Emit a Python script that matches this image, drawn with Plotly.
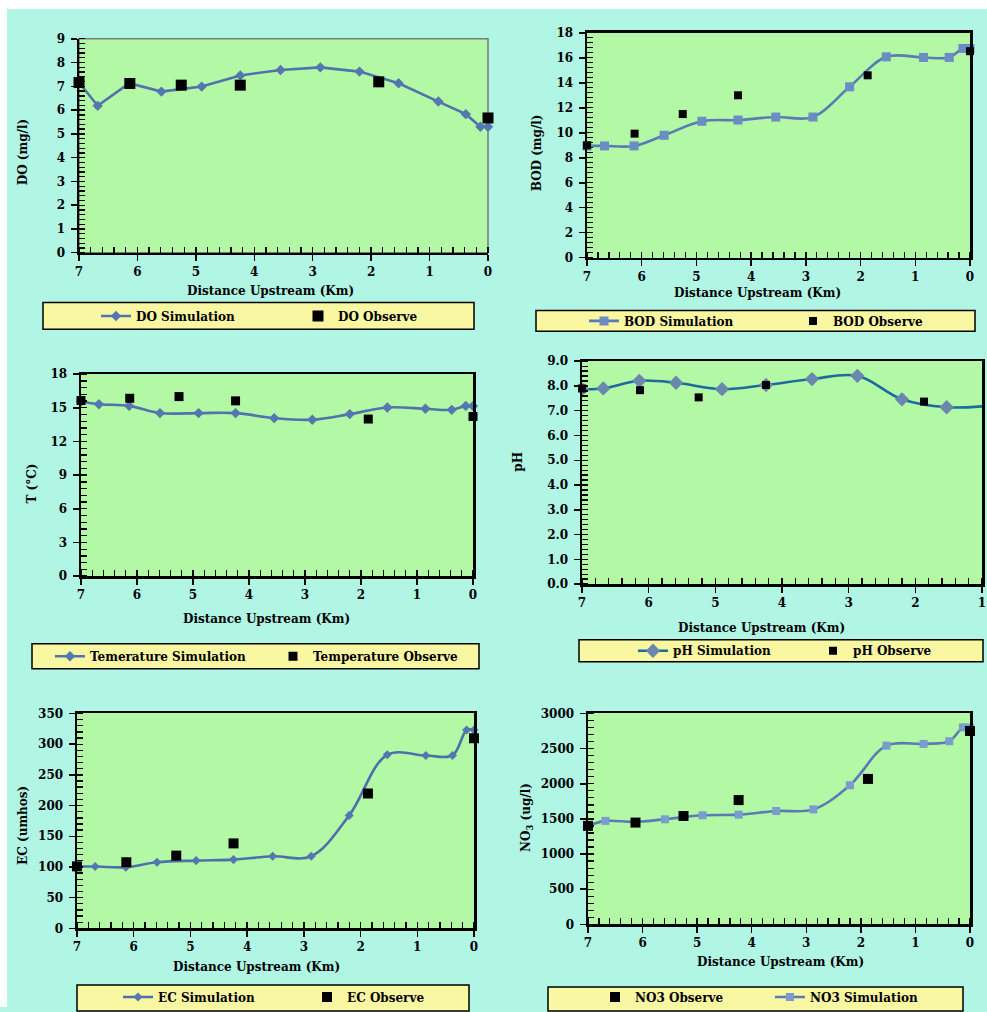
import plotly.graph_objects as go

# ---------------- data ----------------
x_sim = [7.0, 6.68, 6.14, 5.59, 4.90, 4.24, 3.55, 2.87, 2.20, 1.53, 0.85, 0.38, 0.13, 0.0]
x_obs = [7.0, 6.13, 5.25, 4.24, 1.87, 0.0]

do_sim = [7.16, 6.18, 7.13, 6.78, 6.99, 7.46, 7.69, 7.80, 7.62, 7.13, 6.36, 5.83, 5.30, 5.30]
do_obs = [7.16, 7.12, 7.05, 7.05, 7.19, 5.67]

bod_sim = [8.95, 8.95, 8.95, 9.80, 10.92, 11.02, 11.26, 11.26, 13.68, 16.08, 16.03, 16.03, 16.75, 16.75]
bod_obs = [9.0, 9.93, 11.5, 13.0, 14.6, 16.53]

t_sim = [15.56, 15.32, 15.17, 14.53, 14.53, 14.53, 14.08, 13.94, 14.44, 15.03, 14.91, 14.82, 15.17, 15.17]
t_obs = [15.65, 15.85, 16.0, 15.62, 14.0, 14.23]

ph_x_sim = x_sim[:11]
ph_sim = [7.87, 7.90, 8.21, 8.13, 7.87, 8.04, 8.28, 8.41, 7.46, 7.14, 7.21]
ph_x_obs = x_obs[:5]
ph_obs = [7.90, 7.83, 7.54, 8.04, 7.37]

ec_sim = [100.7, 100.7, 99.6, 107.7, 110.4, 112.0, 117.4, 117.4, 184.0, 282.7, 281.6, 281.6, 323.0, 323.0]
ec_obs = [101.0, 107.7, 118.5, 138.4, 219.7, 309.6]

no3_sim = [1401, 1472, 1458, 1495, 1552, 1561, 1613, 1636, 1979, 2543, 2567, 2605, 2802, 2802]
no3_obs = [1401, 1448, 1542, 1768, 2069, 2750]

# ---------------- styling / layout constants ----------------
W, H = 987, 1012
CYAN = "#b1f6e4"
GREEN = "#b3f8a4"
YELLOW = "#faf7a2"
FONT = "DejaVu Serif"


def fx(p):
    return p / W


def fy(p):
    return 1 - p / H


panels = [
    dict(xr=[7, 0], yr=[0, 9], dt=1, mn=0.2, fmt="", px=(79, 488), py=(39, 254),
         yt="DO (mg/l)", xtp=(270, 292), ytp=(23, 153)),
    dict(xr=[7, 0], yr=[0, 18], dt=2, mn=0.4, fmt="", px=(587, 970), py=(33, 259),
         yt="BOD (mg/l)", xtp=(757, 294), ytp=(537, 154)),
    dict(xr=[7, 0], yr=[0, 18], dt=3, mn=0.6, fmt="", px=(81, 473), py=(376, 579),
         yt="T (°C)", xtp=(266, 622), ytp=(32, 486)),
    dict(xr=[7, 1], yr=[0, 9], dt=1, mn=0.2, fmt=".1f", px=(582, 982), py=(363, 587),
         yt="pH", xtp=(761, 631), ytp=(518, 464)),
    dict(xr=[7, 0], yr=[0, 350], dt=50, mn=10, fmt="", px=(77, 474), py=(717, 933),
         yt="EC (umhos)", xtp=(256, 972), ytp=(23, 830)),
    dict(xr=[7, 0], yr=[0, 3000], dt=500, mn=100, fmt="", px=(588, 970), py=(717, 929),
         yt="NO<sub>3</sub> (ug/l)", xtp=(780, 967), ytp=(527, 822)),
]

fig = go.Figure()

series = [
    (0, x_sim, do_sim, "DO Simulation", "sim", dict(sym="diamond", size=8, mc="#5577b0", lc="#5073ad", shape="linear")),
    (0, x_obs, do_obs, "DO Observe", "obs", dict(size=11)),
    (1, x_sim, bod_sim, "BOD Simulation", "sim", dict(sym="square", size=9, mc="#6b8dc4", lc="#5a7bb5", shape="spline")),
    (1, x_obs, bod_obs, "BOD Observe", "obs", dict(size=8)),
    (2, x_sim, t_sim, "Temerature Simulation", "sim", dict(sym="diamond", size=8, mc="#5577b0", lc="#5073ad", shape="spline")),
    (2, x_obs, t_obs, "Temperature Observe", "obs", dict(size=9)),
    (3, ph_x_sim, ph_sim, "pH Simulation", "sim", dict(sym="diamond", size=11, mc="#6a88ad", lc="#1b6b9e", shape="spline", clip=True)),
    (3, ph_x_obs, ph_obs, "pH Observe", "obs", dict(size=8)),
    (4, x_sim, ec_sim, "EC Simulation", "sim", dict(sym="diamond", size=7, mc="#5577b0", lc="#4d70ad", shape="spline")),
    (4, x_obs, ec_obs, "EC Observe", "obs", dict(size=10)),
    (5, x_obs, no3_obs, "NO3 Observe", "obs", dict(size=10)),
    (5, x_sim, no3_sim, "NO3 Simulation", "sim", dict(sym="square", size=8, mc="#7b9dcd", lc="#5a7bb5", shape="spline")),
]

legend_pos = [
    (96, 317.5), (298, 317.5),
    (584, 322.5), (793, 322.5),
    (50, 659.5), (273, 659.5),
    (633, 654), (813, 654),
    (118, 1002), (307, 1002),
    (595, 1002), (770, 1002),
]

legend_boxes = [
    (43, 474, 304, 331),
    (536, 975, 312, 333),
    (32, 479, 647, 672),
    (579, 983, 643, 665),
    (77, 469, 990, 1016),
    (548, 963, 992, 1016),
]

order = [i for i, s in enumerate(series) if s[4] == "sim"] + [i for i, s in enumerate(series) if s[4] == "obs"]
for i in order:
    p, xs, ys, name, kind, st = series[i]
    axn = "" if p == 0 else str(p + 1)
    lg = "legend" if i == 0 else "legend%d" % (i + 1)
    if kind == "sim":
        tr = go.Scatter(
            x=xs, y=ys, name=name, mode="lines+markers",
            line=dict(color=st["lc"], width=2.6, shape=st["shape"], smoothing=1.0),
            marker=dict(symbol=st["sym"], size=st["size"], color=st["mc"], line=dict(width=0)),
            cliponaxis=st.get("clip", False),
            xaxis="x" + axn, yaxis="y" + axn, legend=lg,
        )
    else:
        tr = go.Scatter(
            x=xs, y=ys, name=name, mode="markers",
            marker=dict(symbol="square", size=st["size"], color="#000000", line=dict(width=0)),
            cliponaxis=False,
            xaxis="x" + axn, yaxis="y" + axn, legend=lg,
        )
    fig.add_trace(tr)

layout = dict(
    width=W, height=H,
    margin=dict(l=0, r=0, t=0, b=0),
    paper_bgcolor=CYAN,
    plot_bgcolor=GREEN,
    template="none",
    showlegend=True,
    font=dict(family=FONT, size=12, color="#000000"),
)

tickfont = dict(family=FONT, size=12, color="#000000", weight="bold")

shapes = []
annotations = []
for k, pn in enumerate(panels):
    axn = "" if k == 0 else str(k + 1)
    mirror = k != 0
    xa = dict(
        domain=[fx(pn["px"][0]), fx(pn["px"][1])],
        range=pn["xr"], autorange=False, tickmode="linear", dtick=1, tick0=0,
        showgrid=False, zeroline=False,
        showline=True, linecolor="#000000", linewidth=2.5, mirror=mirror,
        ticks="outside", ticklen=6, tickwidth=1.5, tickcolor="#000000",
        minor=dict(tickmode="linear", tick0=0, dtick=0.2, ticks="inside", ticklen=6,
                   tickwidth=1.3, tickcolor="#000000", showgrid=False),
        tickfont=tickfont, anchor="y" + axn, automargin=False, fixedrange=True,
    )
    ya = dict(
        domain=[fy(pn["py"][1]), fy(pn["py"][0])],
        range=pn["yr"], autorange=False, tickmode="linear", dtick=pn["dt"], tick0=0,
        tickformat=pn["fmt"],
        showgrid=False, zeroline=False,
        showline=True, linecolor="#000000", linewidth=2.5, mirror=mirror,
        ticks="outside", ticklen=6, tickwidth=1.5, tickcolor="#000000",
        ticklabelstandoff=3,
        minor=dict(tickmode="linear", tick0=0, dtick=pn["mn"], ticks="inside", ticklen=6,
                   tickwidth=1.3, tickcolor="#000000", showgrid=False),
        tickfont=tickfont, anchor="x" + axn, automargin=False, fixedrange=True,
    )
    layout["xaxis" + axn] = xa
    layout["yaxis" + axn] = ya

    if k == 0:
        shapes.append(dict(type="rect", xref="x domain", yref="y domain", x0=0, x1=1, y0=0, y1=1,
                           line=dict(color="#7a7a7a", width=1.5), layer="below"))
    annotations.append(dict(text="<b>Distance Upstream (Km)</b>", xref="paper", yref="paper",
                            x=fx(pn["xtp"][0]), y=fy(pn["xtp"][1]), xanchor="center", yanchor="middle",
                            showarrow=False, font=dict(family=FONT, size=12, color="#000000")))
    annotations.append(dict(text="<b>%s</b>" % pn["yt"], xref="paper", yref="paper",
                            x=fx(pn["ytp"][0]), y=fy(pn["ytp"][1]), xanchor="center", yanchor="middle",
                            textangle=-90, showarrow=False, font=dict(family=FONT, size=12, color="#000000")))

shapes.append(dict(type="rect", xref="paper", yref="paper", x0=0, x1=fx(7), y0=0, y1=1,
                   fillcolor="#ffffff", line=dict(width=0), layer="below"))
shapes.append(dict(type="rect", xref="paper", yref="paper", x0=0, x1=1, y0=fy(9), y1=1,
                   fillcolor="#ffffff", line=dict(width=0), layer="below"))

for (x0, x1, y0, y1) in legend_boxes:
    shapes.append(dict(type="rect", xref="paper", yref="paper", x0=fx(x0), x1=fx(x1), y0=fy(y1), y1=fy(y0),
                       fillcolor=YELLOW, line=dict(color="#000000", width=1.5), layer="below"))

for i, (lx, ly) in enumerate(legend_pos):
    key = "legend" if i == 0 else "legend%d" % (i + 1)
    layout[key] = dict(
        x=fx(lx), y=fy(ly), xanchor="left", yanchor="middle", orientation="h",
        bgcolor="rgba(0,0,0,0)", borderwidth=0,
        font=dict(family=FONT, size=12, color="#000000", weight="bold"),
        itemclick=False, itemdoubleclick=False,
    )

layout["shapes"] = shapes
layout["annotations"] = annotations
fig.update_layout(**layout)

fig.write_html("out.html", config={"displayModeBar": False, "staticPlot": True},
               post_script="document.body.style.margin='0';document.body.style.overflow='hidden';")
